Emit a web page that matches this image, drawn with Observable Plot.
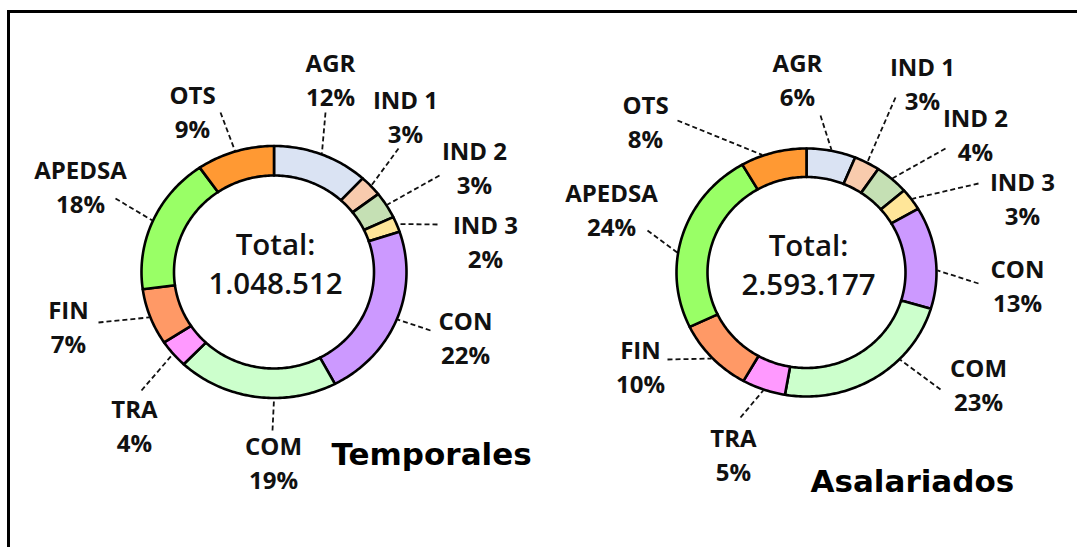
<!DOCTYPE html>
<html><head><meta charset="utf-8">
<script src="https://cdn.jsdelivr.net/npm/d3@7"></script>
<script src="https://cdn.jsdelivr.net/npm/@observablehq/plot@0.6"></script>
<style>
body{margin:0;background:#fff;}
#wrap{position:relative;width:1077px;height:547px;overflow:hidden;background:#fff;}
#chart{position:absolute;left:0;top:0;}
#frame{position:absolute;left:7px;top:10px;right:-10px;bottom:-10px;border-top:3px solid #000;border-left:3px solid #000;pointer-events:none;}
</style></head><body>
<div id="wrap"><div id="chart"></div><div id="frame"></div></div>
<script>
// ---- data ----
const categories = ["AGR","IND 1","IND 2","IND 3","CON","COM","TRA","FIN","APEDSA","OTS"];
const temporalesShare = [11.6, 2.7, 3.4, 2.0, 22.4, 19.4, 3.6, 7.2, 17.6, 9.4];
const asalariadosShare = [6.1, 3.2, 4.2, 2.9, 13.3, 22.9, 5.4, 9.7, 24.0, 8.2];
const temporalesPct = [12, 3, 3, 2, 22, 19, 4, 7, 18, 9];
const asalariadosPct = [6, 3, 4, 3, 13, 23, 5, 10, 24, 8];
const totalLabel = "Total:";
const totals = ["1.048.512", "2.593.177"];
const titles = ["Temporales", "Asalariados"];
const colors = ["#dae3f3","#f8cbad","#c5e0b4","#ffe699","#cc99ff","#ccffcc","#ff99ff","#ff9966","#99ff66","#ff9933"];

// ---- layout ----
const donuts = [
  {cx: 273.5, cy: 271.5, rx: 132.5, ry: 126, irx: 100, iry: 96.5, title: [331, 455], center: [275, 245, 284]},
  {cx: 806, cy: 272, rx: 130, ry: 124, irx: 99, iry: 95.5, title: [810, 482], center: [808, 246, 285]}
];
// label block centre [x, y], leader label end [x, y], leader ring-angle shift (deg)
const labelLayout = [
  [[330,78],[325,112],0],[[405,115],[398,148],0],[[474,166],[439,175],0],[[485,240],[437,224],0],[[465,336],[430,330],0],
  [[273,461],[272,430],-7.8],[[134,424],[141,390],0],[[68,325],[98,322],0],[[80,185],[115,198],0],[[192,110],[220,112],0]
];
const labelLayout2 = [
  [[797,78],[820,115],0],[[922,82],[895,97],0],[[975,133],[945,148],0],[[1022,197],[978,183],0],[[1017,284],[978,283],6],
  [[978,383],[940,389],-14],[[733,453],[740,417],0],[[640,365],[667,359],0],[[611,208],[647,230],-8],[[645,120],[677,120],-5]
];

const series = [
  {share: temporalesShare, pct: temporalesPct, layout: labelLayout},
  {share: asalariadosShare, pct: asalariadosPct, layout: labelLayout2}
];

const wedgePts = [], leaders = [], labels = [], centerRows = [], titleRows = [];
series.forEach((s, k) => {
  const D = donuts[k];
  const arcs = d3.pie().sort(null).value(d => d.v)(categories.map((c, i) => ({c, v: s.share[i], i})));
  arcs.forEach(a => {
    const key = k + "-" + a.data.c;
    const n = Math.max(3, Math.ceil((a.endAngle - a.startAngle) / (Math.PI / 180)));
    for (let j = 0; j <= n; j++) {
      const t = a.startAngle + (a.endAngle - a.startAngle) * j / n;
      wedgePts.push({key, cat: a.data.c, x: D.cx + D.rx * Math.sin(t), y: D.cy - D.ry * Math.cos(t)});
    }
    for (let j = n; j >= 0; j--) {
      const t = a.startAngle + (a.endAngle - a.startAngle) * j / n;
      wedgePts.push({key, cat: a.data.c, x: D.cx + D.irx * Math.sin(t), y: D.cy - D.iry * Math.cos(t)});
    }
    const L = s.layout[a.data.i];
    const mid = (a.startAngle + a.endAngle) / 2 + L[2] * Math.PI / 180;
    leaders.push({x1: L[1][0], y1: L[1][1], x2: D.cx + (D.rx + 1) * Math.sin(mid), y2: D.cy - (D.ry + 1) * Math.cos(mid)});
    labels.push({x: L[0][0], y: L[0][1], text: a.data.c + "\n" + s.pct[a.data.i] + "%"});
  });
  centerRows.push({x: D.center[0], y: D.center[1], text: totalLabel});
  centerRows.push({x: D.center[0], y: D.center[2], text: totals[k]});
  titleRows.push({x: D.title[0], y: D.title[1], text: titles[k]});
});

const chart = Plot.plot({
  width: 1077, height: 547, margin: 0,
  style: {fontFamily: "'Open Sans', sans-serif", background: "transparent"},
  x: {domain: [0, 1077], range: [0, 1077], axis: null},
  y: {domain: [0, 547], range: [0, 547], axis: null},
  color: {type: "ordinal", domain: categories, range: colors},
  marks: [
    Plot.link(leaders, {x1: "x1", y1: "y1", x2: "x2", y2: "y2", stroke: "#111", strokeWidth: 1.8, strokeDasharray: "5,3"}),
    Plot.line(wedgePts, {x: "x", y: "y", z: "key", fill: "cat", stroke: "#000", strokeWidth: 2.6, curve: "linear-closed"}),
    Plot.text(labels, {x: "x", y: "y", text: "text", fontSize: 24, fontWeight: 700, lineHeight: 1.4, fill: "#111"}),
    Plot.text(centerRows, {x: "x", y: "y", text: "text", fontSize: 29.5, fontWeight: 600, fill: "#111"}),
    Plot.text(titleRows, {x: "x", y: "y", text: "text", textAnchor: "start", fontFamily: "'DejaVu Sans'", fontWeight: 700, fontSize: 31, fill: "#000"})
  ]
});
document.getElementById("chart").appendChild(chart);
</script>
</body></html>
